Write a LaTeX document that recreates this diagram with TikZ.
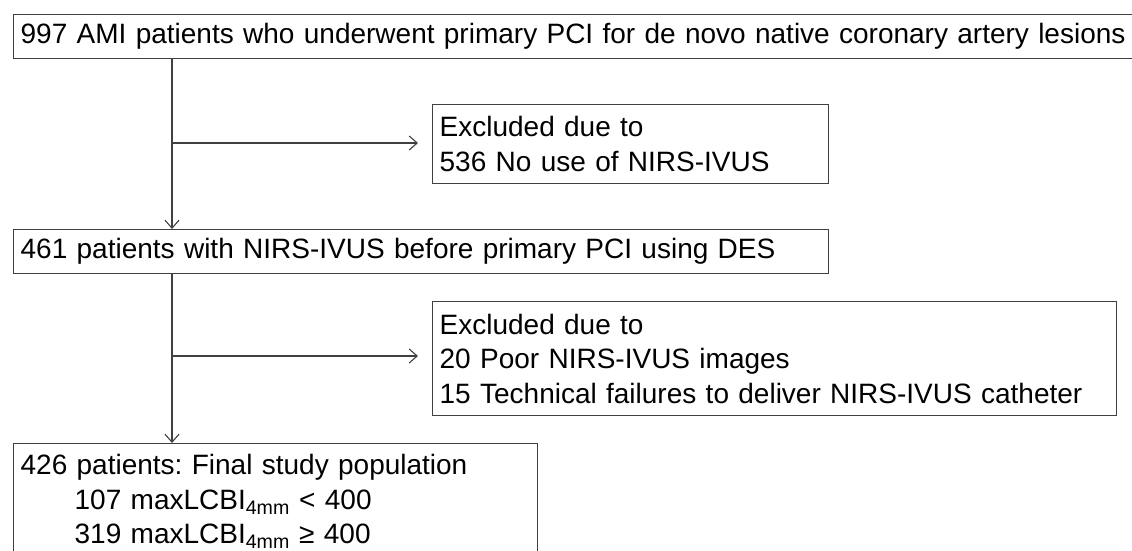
\documentclass[tikz,border=0pt]{standalone}
\usepackage{fontspec}
\setmainfont{Liberation Sans}
\usetikzlibrary{arrows.meta}
\newcommand{\boxfontsel}{\fontsize{28}{34.5}\selectfont\frenchspacing\spaceskip=9.5pt plus 1pt minus 1pt\relax}
\begin{document}
\begin{tikzpicture}[x=1pt,y=-1pt,
  box/.style={draw=black!75, line width=1.3pt, anchor=north west, inner xsep=7pt, inner ysep=0pt,
    align=left, font=\boxfontsel},
  arr/.style={draw=black!75, line width=1.1pt, -{Straight Barb[length=8pt,width=14pt]}}]
\useasboundingbox (0,0) rectangle (1132,551);
\node[box, minimum width=1127pt, minimum height=44pt, text width=1113pt] (b1) at (13,14)
  {997 AMI patients who underwent primary PCI for de novo native coronary artery lesions};
\node[box, minimum width=396pt, minimum height=79pt, text width=382pt] (e1) at (432,104)
  {Excluded due to\\536 No use of NIRS-IVUS};
\node[box, minimum width=815pt, minimum height=44pt, text width=801pt] (b2) at (13,229)
  {461 patients with NIRS-IVUS before primary PCI using DES};
\node[box, minimum width=684pt, minimum height=114pt, text width=670pt] (e2) at (432,301)
  {Excluded due to\\20 Poor NIRS-IVUS images\\15 Technical failures to deliver NIRS-IVUS catheter};
\node[box, minimum width=524pt, minimum height=116pt, text width=510pt] (b3) at (13,443)
  {426 patients: Final study population\\
   \hspace*{54pt}107 maxLCBI\textsubscript{4mm} < 400\\
   \hspace*{54pt}319 maxLCBI\textsubscript{4mm} ≥ 400};
\coordinate (j1) at (172,143);
\coordinate (j2) at (172,356);
\draw[arr] (j1 |- b1.south) -- (j1 |- b2.north);
\draw[arr, shorten >=14pt] (j1) -- (j1 -| e1.west);
\draw[arr] (j2 |- b2.south) -- (j2 |- b3.north);
\draw[arr, shorten >=14pt] (j2) -- (j2 -| e2.west);
\end{tikzpicture}
\end{document}
